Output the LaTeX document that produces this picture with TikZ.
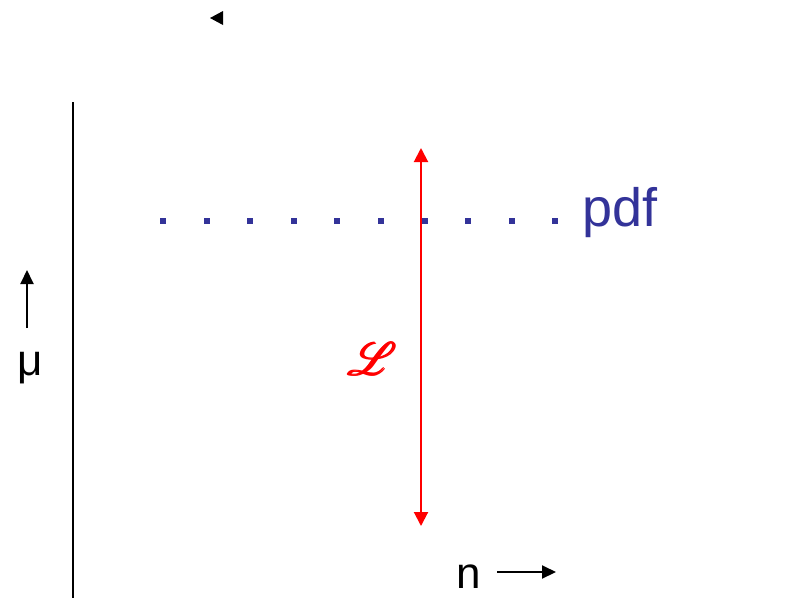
\documentclass[tikz,border=0pt]{standalone}
\usepackage{fontspec}
\setmainfont{Liberation Sans}
\usepackage{amsbsy}
\usepackage{mathrsfs}
\usetikzlibrary{arrows.meta}
\definecolor{pdfblue}{RGB}{51,51,153}
\begin{document}
\begin{tikzpicture}[x=1pt,y=-1pt,
  axis/.style={line width=1.5pt},
  arr/.style={line width=2pt,-{Triangle[length=14pt,width=13pt]}},
  lik/.style={red,line width=2pt,{Triangle[length=14pt,width=14pt]}-{Triangle[length=14pt,width=14pt]}},
  big/.style={inner sep=0,font=\fontsize{44}{44}\selectfont}]

  \useasboundingbox (0,0) rectangle (806,598);

  % axis
  \coordinate (axtop) at (73,102);
  \coordinate (axbot) at (73,598);
  \draw[axis] (axtop) -- (axbot);

  % lone arrow head
  \fill (210,18) -- (223,11) -- (223,25) -- cycle;

  % pdf level
  \foreach \i in {0,...,9} {
    \fill[pdfblue] (163+43.6*\i-3,220.5-3) rectangle ++(6,6);
  }
  \node[pdfblue,anchor=base west,inner sep=0,font=\fontsize{54}{54}\selectfont] (pdf) at (582,226) {pdf};

  % likelihood
  \coordinate (ltop) at (421,148);
  \coordinate (lbot) at (421,526);
  \draw[lik] (lbot) -- (ltop);
  \node[red,inner sep=0] (L) at (373,359) {\scalebox{4.6}{$\pmb{\mathscr{L}}$}};

  % mu
  \node[big,anchor=base] (mu) at (30,375) {μ};
  \coordinate (mutail) at (27,328);
  \coordinate (muhead) at (27,270);
  \draw[arr] (mutail) -- (muhead);

  % n
  \node[big,anchor=base west] (n) at (456,588) {n};
  \coordinate (ntail) at (497,572);
  \coordinate (nhead) at (556,572);
  \draw[arr] (ntail) -- (nhead);

\end{tikzpicture}
\end{document}
